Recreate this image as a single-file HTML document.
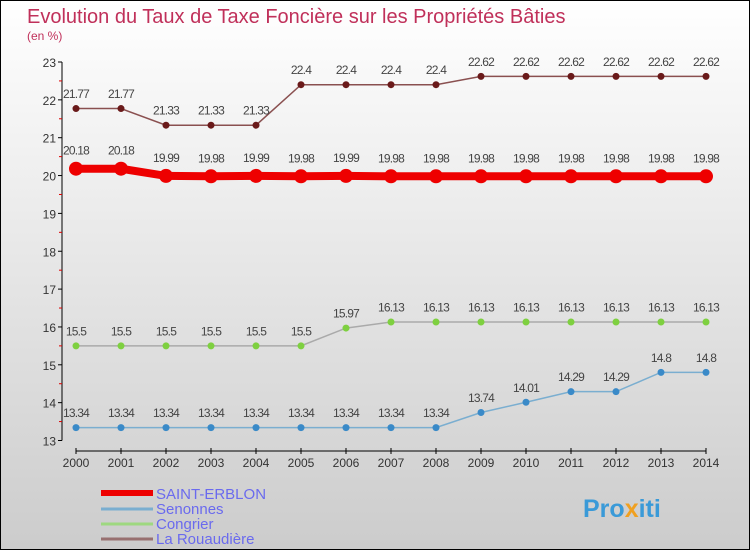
<!DOCTYPE html>
<html><head><meta charset="utf-8"><style>
html,body{margin:0;padding:0}
body{width:750px;height:550px;overflow:hidden;font-family:"Liberation Sans",sans-serif}
#c{position:absolute;left:0;top:0;width:748px;height:548px;border:1px solid #000;background:linear-gradient(#fff,#ccc)}
</style></head><body>
<div id="c">
<svg id="s" width="748" height="548" xmlns="http://www.w3.org/2000/svg">
<text x="26" y="22" font-size="20" fill="#c0305a">Evolution du Taux de Taxe Foncière sur les Propriétés Bâties</text>
<text x="26" y="39" font-size="12" fill="#c0305a">(en %)</text>
<g id="axes"></g><g id="series"></g>
<g>
<line x1="100" y1="492" x2="152" y2="492" stroke="#e00" stroke-width="6"/>
<text x="155" y="498" font-size="15" fill="#6a6aee">SAINT-ERBLON</text>
<line x1="100" y1="508" x2="152" y2="508" stroke="#7aaed0" stroke-width="3"/>
<text x="155" y="513" font-size="15" fill="#6a6aee">Senonnes</text>
<line x1="100" y1="523" x2="152" y2="523" stroke="#9ed880" stroke-width="3"/>
<text x="155" y="528" font-size="15" fill="#6a6aee">Congrier</text>
<line x1="100" y1="538" x2="152" y2="538" stroke="#987070" stroke-width="3"/>
<text x="155" y="543" font-size="15" fill="#6a6aee">La Rouaudière</text>
</g>
<text x="582" y="516" font-size="25" font-weight="bold" fill="#3a9ad8">Pro<tspan fill="#f0a020">x</tspan>iti</text>
</svg></div>
<script>
const years=[2000,2001,2002,2003,2004,2005,2006,2007,2008,2009,2010,2011,2012,2013,2014];
const yTicks=[13,14,15,16,17,18,19,20,21,22,23];
const saintErblon=[20.18,20.18,19.99,19.98,19.99,19.98,19.99,19.98,19.98,19.98,19.98,19.98,19.98,19.98,19.98];
const senonnes=[13.34,13.34,13.34,13.34,13.34,13.34,13.34,13.34,13.34,13.74,14.01,14.29,14.29,14.8,14.8];
const congrier=[15.5,15.5,15.5,15.5,15.5,15.5,15.97,16.13,16.13,16.13,16.13,16.13,16.13,16.13,16.13];
const rouaudiere=[21.77,21.77,21.33,21.33,21.33,22.4,22.4,22.4,22.4,22.62,22.62,22.62,22.62,22.62,22.62];
const NS="http://www.w3.org/2000/svg";
const xs=i=>75+i*45, ys=v=>439.5-(v-13)*37.85;
function mk(p,t,a){const e=document.createElementNS(NS,t);for(const k in a)e.setAttribute(k,a[k]);p.appendChild(e);return e;}
const ax=document.getElementById('axes');
const yl=mk(ax,'line',{x1:61,y1:ys(23),x2:61,y2:ys(13),stroke:'#000'});


yTicks.forEach(v=>{
 mk(ax,'line',{x1:57,y1:ys(v),x2:61,y2:ys(v),stroke:'#000'});
 if(v<23)mk(ax,'line',{x1:58,y1:ys(v+0.5),x2:61,y2:ys(v+0.5),stroke:'#d00'});
 const t=mk(ax,'text',{x:55,y:ys(v)+5,'font-size':12,fill:'#333','text-anchor':'end'});t.textContent=v;
 
 
});
const xl=mk(ax,'line',{x1:xs(0),y1:450,x2:xs(years.length-1),y2:450,stroke:'#000'});


years.forEach((y,i)=>{
 mk(ax,'line',{x1:xs(i),y1:447,x2:xs(i),y2:453,stroke:'#000'});
 const t=mk(ax,'text',{x:xs(i),y:466,'font-size':12,fill:'#333','text-anchor':'middle'});t.textContent=y;
 
 
});
const sg=document.getElementById('series');
function draw(data,name,lc,dc,lw,r){
 const g=mk(sg,'g',{});
 
 
 const l=mk(g,'polyline',{points:data.map((v,i)=>xs(i)+','+ys(v)).join(' '),fill:'none',stroke:lc,'stroke-width':lw});
 
 
 data.forEach((v,i)=>{
  const c=mk(g,'circle',{cx:xs(i),cy:ys(v),r:r,fill:dc});
  
  
  const t=mk(g,'text',{x:xs(i),y:ys(v)-(r+7),'font-size':12,fill:'#444','text-anchor':'middle','letter-spacing':'-0.8'});
  t.textContent=v;
  
  
 });
}
draw(senonnes,'senonnes','#7aaed0','#3a8ac8',1.5,3.5);
draw(congrier,'congrier','#aaa','#7ed040',1.5,3.5);
draw(rouaudiere,'la-rouaudiere','#8a5050','#6a1a1a',1.5,3.5);
draw(saintErblon,'saint-erblon','#e00','#e00',8,7);
</script>
</body></html>
